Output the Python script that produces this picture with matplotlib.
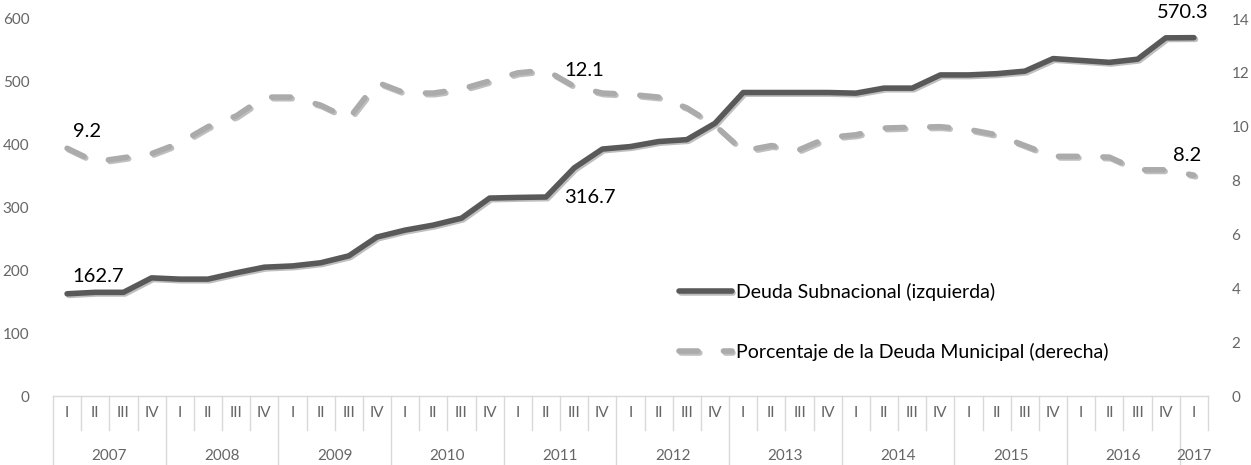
import matplotlib
matplotlib.use("Agg")
import matplotlib.pyplot as plt
import matplotlib.patheffects as pe
from matplotlib.transforms import blended_transform_factory

plt.rcParams['font.family'] = ['Lato', 'DejaVu Sans']

# datos trimestrales 2007-I .. 2017-I
quarters = ["I", "II", "III", "IV"] * 10 + ["I"]
years = ["2007", "2008", "2009", "2010", "2011", "2012", "2013", "2014", "2015", "2016", "2017"]
deuda = [162.7, 165, 165, 188, 186, 186, 196, 205, 207, 212, 223, 253, 264, 272, 283, 315,
         316, 316.7, 363, 393, 397, 405, 408, 434, 483, 483, 483, 483, 482, 490, 490, 511,
         511, 513, 517, 537, 534, 531, 536, 570, 570.3]
pct = [9.2, 8.7, 8.85, 9.0, 9.4, 10.0, 10.4, 11.1, 11.1, 10.8, 10.3, 11.65, 11.25, 11.25, 11.4, 11.7,
       12.0, 12.1, 11.5, 11.25, 11.2, 11.1, 10.7, 10.05, 9.1, 9.3, 9.15, 9.6, 9.7, 9.95, 9.98, 10.0,
       9.9, 9.7, 9.3, 8.9, 8.9, 8.87, 8.4, 8.4, 8.2]
lbl_deuda = {0: "162.7", 17: "316.7", 40: "570.3"}
lbl_pct = {0: "9.2", 17: "12.1", 40: "8.2"}

W, H = 1251, 465
fig = plt.figure(figsize=(W / 100, H / 100), dpi=100)
L, R, T, B = 53, 1208, 19, 396
ax = fig.add_axes([L / W, (H - B) / H, (R - L) / W, (B - T) / H])
ax2 = ax.twinx()

x = list(range(len(deuda)))
dark = "#595959"
light = "#ABABAB"
tick_c = "#666666"

shadow = [pe.SimpleLineShadow(offset=(1.2, -1.2), alpha=0.25, shadow_color="black"), pe.Normal()]

l1, = ax.plot(x, deuda, color=dark, lw=4, solid_capstyle="round", solid_joinstyle="round",
              label="Deuda Subnacional (izquierda)", path_effects=shadow, zorder=3)
l2, = ax2.plot(x, pct, color=light, lw=4, dashes=(3.4, 4.6), dash_capstyle="round",
               dash_joinstyle="round", label="Porcentaje de la Deuda Municipal (derecha)",
               path_effects=shadow, zorder=3)

ax.set_xlim(-0.5, len(x) - 0.5)
ax.set_ylim(0, 600)
ax.set_yticks(range(0, 601, 100))
ax2.set_ylim(0, 14)
ax2.set_yticks(range(0, 15, 2))

for a in (ax, ax2):
    for s in a.spines.values():
        s.set_visible(False)
    a.tick_params(axis="y", length=0, labelsize=11, labelcolor=tick_c, pad=17)
    a.set_xticks([])
ax.spines["bottom"].set_visible(True)
ax.spines["bottom"].set_color("#D9D9D9")
ax.spines["bottom"].set_linewidth(1)

# eje de categorias en dos niveles
tr = blended_transform_factory(ax.transData, ax.transAxes)
hpx = B - T
q_bot = -34 / hpx
y_bot = -69 / hpx
sep = dict(color="#D9D9D9", lw=1, transform=tr, clip_on=False)
for i in range(len(x) + 1):
    xs = i - 0.5
    if i % 4 == 0 and i < len(x):
        ax.plot([xs, xs], [0, y_bot], **sep)
    else:
        ax.plot([xs, xs], [0, q_bot], **sep)
for i, q in enumerate(quarters):
    ax.text(i, -17 / hpx, q, transform=tr, ha="center", va="center", fontsize=11, color=tick_c)
for k, yr in enumerate(years):
    xc = (4 * k + min(4 * k + 3, len(x) - 1)) / 2
    ax.text(xc, -60 / hpx, yr, transform=tr, ha="center", va="center", fontsize=11, color=tick_c)

# etiquetas de datos
lab = dict(fontsize=14.5, color="black", textcoords="offset points")
ax.annotate(lbl_deuda[0], (0, deuda[0]), xytext=(4, 6), ha="left", va="bottom", **lab)
ax.annotate(lbl_deuda[17], (17, deuda[17]), xytext=(13, 0), ha="left", va="center", **lab)
ax.annotate(lbl_deuda[40], (40, deuda[40]), xytext=(-8, 12), ha="center", va="bottom", **lab)
ax2.annotate(lbl_pct[0], (0, pct[0]), xytext=(4, 6), ha="left", va="bottom", **lab)
ax2.annotate(lbl_pct[17], (17, pct[17]), xytext=(13, 0), ha="left", va="center", **lab)
ax2.annotate(lbl_pct[40], (40, pct[40]), xytext=(-5, 8), ha="center", va="bottom", **lab)

fig.legend(handles=[l1, l2], loc="upper left", bbox_to_anchor=(679 / W, (H - 283) / H),
           frameon=False, fontsize=14, borderpad=0, borderaxespad=0, handlelength=2.7,
           handletextpad=0.25, labelspacing=2.15)

fig.savefig("out.png", dpi=100)
